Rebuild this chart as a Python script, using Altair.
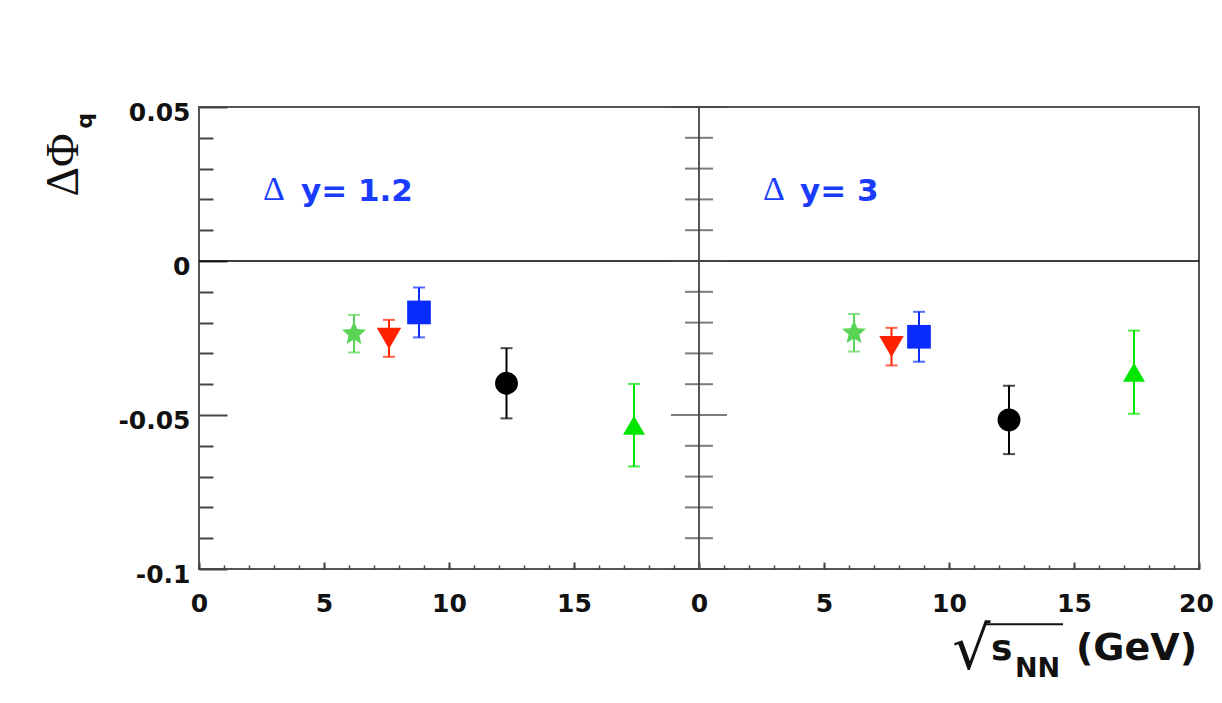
import altair as alt
import pandas as pd

# ---------------- data ----------------
series = ["20A GeV", "30A GeV", "40A GeV", "80A GeV", "158A GeV"]
panels = ["dy12", "dy3"]

sqrt_s_dy12 = [6.2, 7.6, 8.8, 12.3, 17.4]
dphi_dy12 = [-0.0236, -0.0251, -0.0167, -0.0397, -0.0533]
err_dy12 = [0.0061, 0.0060, 0.0081, 0.0114, 0.0134]

sqrt_s_dy3 = [6.2, 7.7, 8.8, 12.4, 17.4]
dphi_dy3 = [-0.0233, -0.0278, -0.0246, -0.0516, -0.0361]
err_dy3 = [0.0061, 0.0061, 0.0081, 0.0111, 0.0135]

x_major_ticks = [0, 5, 10, 15, 20, 25, 30, 35, 40]
x_minor_ticks = list(range(0, 41))
y_major_ticks = [-0.1, -0.05, 0, 0.05]
y_minor_ticks = [-0.09, -0.08, -0.07, -0.06, -0.04, -0.03, -0.02, -0.01,
                 0.01, 0.02, 0.03, 0.04]
zero_line = [0]
panel_border = [20]

# ---------------- styles ----------------
colors = ["#59d454", "#ff2200", "#0a2cff", "#000000", "#00e600"]
star = ("M0,-1L0.2645,-0.364L0.951,-0.309L0.428,0.139L0.588,0.809L0,0.45"
        "L-0.588,0.809L-0.428,0.139L-0.951,-0.309L-0.2645,-0.364Z")
shapes = [star, "triangle-down", "square", "circle", "triangle-up"]
sizes = [640, 484, 484, 330, 484]

rows = []
for p, xs_, ys_, es_ in [("dy12", sqrt_s_dy12, dphi_dy12, err_dy12),
                         ("dy3", sqrt_s_dy3, dphi_dy3, err_dy3)]:
    for s, x, y, e in zip(series, xs_, ys_, es_):
        rows.append({"panel": p, "series": s, "sqrt_s": x, "dphi": y, "err": e})
df = pd.DataFrame(rows)

W, H = 1000, 462
XS = alt.Scale(domain=[0, 40], nice=False, zero=False)
YS = alt.Scale(domain=[-0.1, 0.05], nice=False, zero=False)
color_enc = alt.Color("series:N", scale=alt.Scale(domain=series, range=colors), legend=None)
TICK = "#444444"
FONT = "DejaVu Sans"

base = alt.Chart(df).transform_calculate(
    xpos="datum.sqrt_s + (datum.panel == 'dy3' ? 20 : 0)",
    lo="datum.dphi - datum.err",
    hi="datum.dphi + datum.err",
)

# error bar stems, carrying the labelled axes
stems = base.mark_rule(strokeWidth=2).encode(
    x=alt.X("xpos:Q", scale=XS, axis=alt.Axis(
        orient="bottom", values=x_major_ticks, ticks=False, domain=False, grid=False,
        labelExpr="datum.value == 40 ? '20' : '' + (datum.value % 20)",
        labelFont=FONT, labelFontWeight="bold", labelFontSize=25, labelColor="#111",
        labelOffset={"condition": {"test": "datum.value == 40", "value": -3}, "value": 0},
        labelPadding=22, labelFlush=False, labelOverlap=False, labelBound=False, title=None)),
    y=alt.Y("lo:Q", scale=YS, axis=alt.Axis(
        orient="left", values=y_major_ticks, ticks=False, domain=False, grid=False,
        labelExpr="datum.value == 0 ? '0' : (datum.value < 0 ? '-' : '') + format(abs(datum.value), '.2~f')",
        labelFont=FONT, labelFontWeight="bold", labelFontSize=25, labelColor="#111",
        labelPadding=9, labelOffset=5, labelFlush=False, labelOverlap=False, title=None)),
    y2="hi:Q",
    color=color_enc,
)

# lower caps, carrying the inward major ticks
caps_lo = base.mark_tick(orient="horizontal", size=12, thickness=2).encode(
    x=alt.X("xpos:Q", scale=XS, axis=alt.Axis(
        orient="top", offset=-H, values=x_major_ticks, labels=False, domain=False,
        grid=False, tickSize=7, tickWidth=2, tickColor=TICK, title=None)),
    y=alt.Y("lo:Q", scale=YS, axis=alt.Axis(
        orient="right", offset=-W, values=y_major_ticks, labels=False, domain=False,
        grid=False, tickSize=28, tickWidth=2, tickColor=TICK, title=None)),
    color=color_enc,
)

# upper caps, carrying the inward minor ticks
caps_hi = base.mark_tick(orient="horizontal", size=12, thickness=2).encode(
    x=alt.X("xpos:Q", scale=XS, axis=alt.Axis(
        orient="top", offset=-H, values=x_minor_ticks, labels=False, domain=False,
        grid=False, tickSize=4, tickWidth=1.5, tickColor=TICK, title=None)),
    y=alt.Y("hi:Q", scale=YS, axis=alt.Axis(
        orient="right", offset=-W, values=y_minor_ticks, labels=False, domain=False,
        grid=False, tickSize=14, tickWidth=2, tickColor=TICK, title=None)),
    color=color_enc,
)

points = base.mark_point(filled=True, opacity=1, strokeWidth=0).encode(
    x=alt.X("xpos:Q", scale=XS, axis=None),
    y=alt.Y("dphi:Q", scale=YS, axis=None),
    color=color_enc,
    shape=alt.Shape("series:N", scale=alt.Scale(domain=series, range=shapes), legend=None),
    size=alt.Size("series:N", scale=alt.Scale(domain=series, range=sizes), legend=None),
)

zero = alt.Chart(pd.DataFrame({"y": zero_line})).mark_rule(
    color="#000", strokeWidth=1.5).encode(y=alt.Y("y:Q", scale=YS, axis=None))

border = alt.Chart(pd.DataFrame({"x": panel_border})).mark_rule(
    color="#555", strokeWidth=2).encode(x=alt.X("x:Q", scale=XS, axis=None))

border_major = alt.Chart(pd.DataFrame({"t": y_major_ticks})).mark_tick(
    orient="horizontal", size=56, thickness=2, color=TICK).encode(
    x=alt.XDatum(20, type="quantitative", scale=XS, axis=None),
    y=alt.Y("t:Q", scale=YS, axis=None))
border_minor = alt.Chart(pd.DataFrame({"t": y_minor_ticks})).mark_tick(
    orient="horizontal", size=28, thickness=2, color=TICK).encode(
    x=alt.XDatum(20, type="quantitative", scale=XS, axis=None),
    y=alt.Y("t:Q", scale=YS, axis=None))

one = pd.DataFrame({"_": [0]})


def txt(text, x, y, **kw):
    return alt.Chart(one).mark_text(text=text, **kw).encode(
        x=alt.XDatum(x, type="quantitative", scale=XS, axis=None),
        y=alt.YDatum(y, type="quantitative", scale=YS, axis=None))


BLUE = "#1a3cff"
annotations = [
    txt("Δ", 2.56, 0.0198, font="Liberation Serif", fontSize=34, color=BLUE, align="left", baseline="alphabetic"),
    txt("y= 1.2", 4.08, 0.0195, font=FONT, fontWeight="bold", fontSize=31, color=BLUE, align="left", baseline="alphabetic"),
    txt("Δ", 22.56, 0.0198, font="Liberation Serif", fontSize=34, color=BLUE, align="left", baseline="alphabetic"),
    txt("y= 3", 24.04, 0.0195, font=FONT, fontWeight="bold", fontSize=31, color=BLUE, align="left", baseline="alphabetic"),
    # y title  ΔΦ_q
    txt("ΔΦ", -4.84, 0.0312, font="Liberation Serif", fontSize=46, color="#111", angle=270, align="center", baseline="alphabetic"),
    txt("q", -4.28, 0.0455, font=FONT, fontWeight="bold", fontSize=22, color="#111", angle=270, align="center", baseline="alphabetic"),
    # x title  √s_NN (GeV)
    txt("√", 31.66, -0.1325, font=FONT, fontSize=60, color="#111", align="right", baseline="alphabetic"),
    txt("s", 31.68, -0.1296, font=FONT, fontWeight="bold", fontSize=36, color="#111", align="left", baseline="alphabetic"),
    txt("NN", 32.64, -0.1351, font=FONT, fontWeight="bold", fontSize=27, color="#111", align="left", baseline="alphabetic"),
    txt("(GeV)", 39.92, -0.1296, font=FONT, fontWeight="bold", fontSize=38, color="#111", align="right", baseline="alphabetic"),
]

overline = alt.Chart(one).mark_rule(color="#111", strokeWidth=2).encode(
    x=alt.XDatum(31.40, type="quantitative", scale=XS, axis=None),
    x2=alt.X2Datum(34.56),
    y=alt.YDatum(-0.1179, type="quantitative", scale=YS, axis=None))

chart = alt.layer(
    zero, border, border_major, border_minor,
    stems, caps_lo, caps_hi, points,
    *annotations, overline,
).resolve_axis(x="independent", y="independent").properties(
    width=W, height=H,
    autosize=alt.AutoSizeParams(type="none"),
    padding={"left": 191, "top": 99, "right": 15, "bottom": 125},
    background="white",
).configure_view(stroke="#555", strokeWidth=2)

chart.save("out.html", embed_options={"renderer": "svg", "actions": False})
